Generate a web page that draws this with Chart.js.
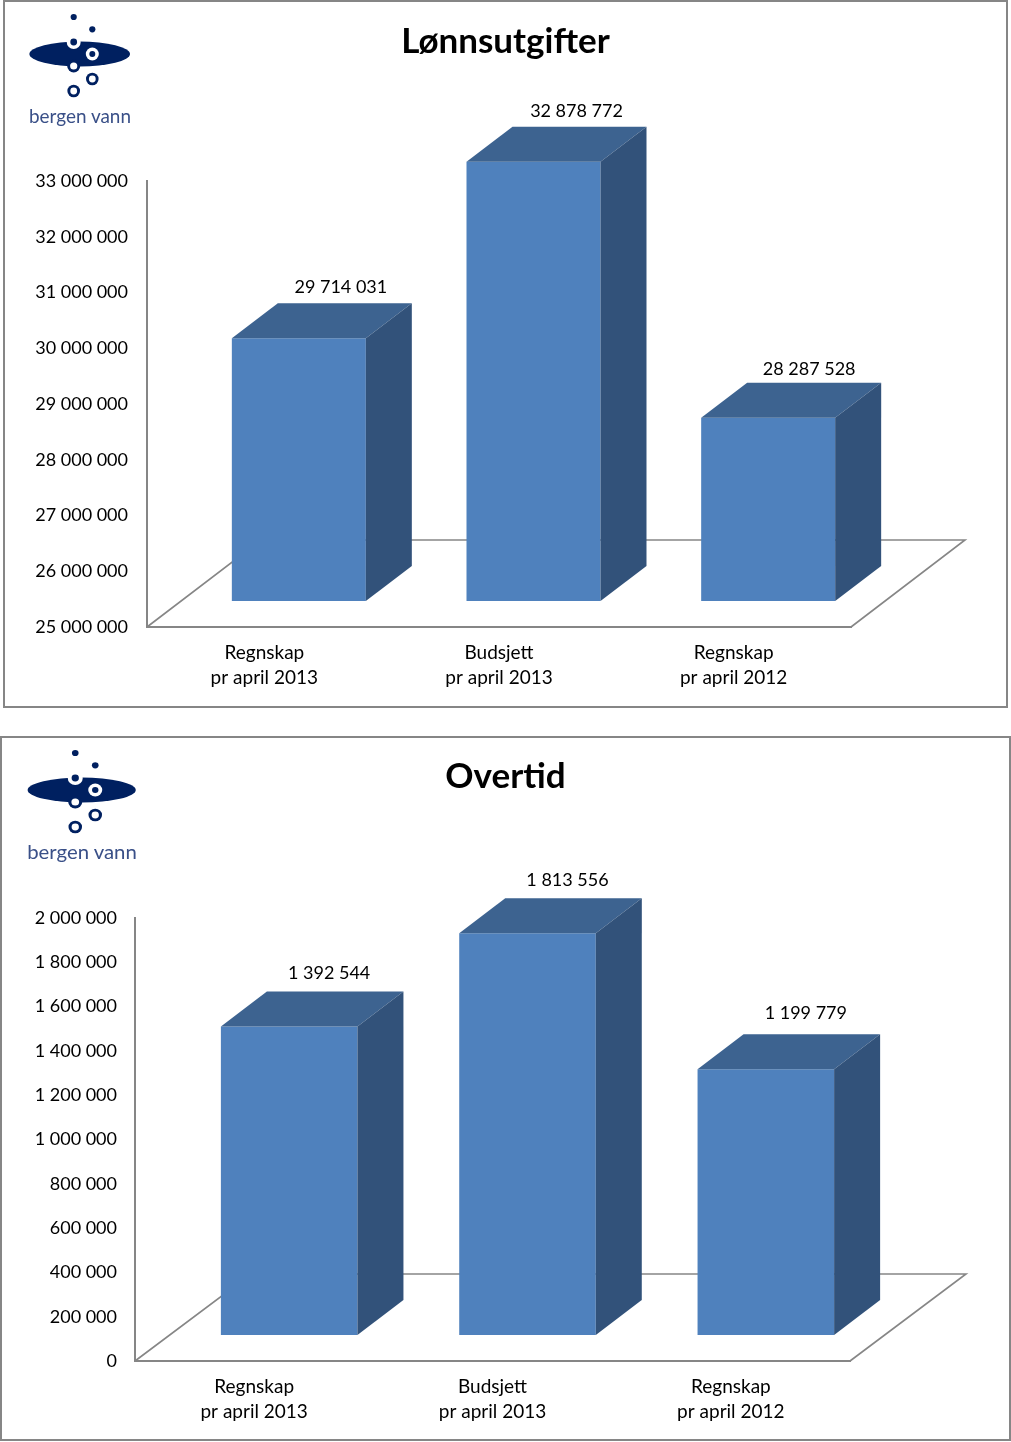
<!DOCTYPE html>
<html><head><meta charset="utf-8">
<script src="https://cdn.jsdelivr.net/npm/chart.js@4"></script>
<style>
html,body{margin:0;padding:0;background:#fff;width:1011px;height:1442px;overflow:hidden}
canvas,svg.logo,.frame{position:absolute}
.frame{border:2px solid #868686;box-sizing:border-box}
svg.logo{left:0;top:0;width:1011px;height:1442px;pointer-events:none}
</style></head><body>
<div class="frame" style="left:3px;top:0;width:1005px;height:708px"></div>
<div class="frame" style="left:0;top:736px;width:1011px;height:705px"></div>
<canvas id="c1" width="1011" height="705" style="left:0;top:2px"></canvas>
<canvas id="c2" width="1011" height="703" style="left:0;top:737px"></canvas>
<svg class="logo" viewBox="0 0 1011 1442">
<defs><g id="mark">
<circle cx="73.7" cy="17" r="3.1" fill="#002060"/><circle cx="92.3" cy="29.3" r="3.1" fill="#002060"/>
<ellipse cx="79.7" cy="54" rx="50.3" ry="12.5" fill="#002060"/>
<circle cx="73.7" cy="42" r="7" fill="#fff"/><circle cx="73.7" cy="42" r="3.4" fill="#002060"/>
<circle cx="92.3" cy="54" r="6.5" fill="#fff"/><circle cx="92.3" cy="54" r="3" fill="#002060"/>
<circle cx="73.7" cy="66" r="6.5" fill="#002060"/><circle cx="73.7" cy="66" r="3.6" fill="#fff"/>
<circle cx="92.3" cy="79" r="6.3" fill="#002060"/><circle cx="92.3" cy="79" r="3.4" fill="#fff"/>
<circle cx="73.7" cy="91" r="6.3" fill="#002060"/><circle cx="73.7" cy="91" r="3.4" fill="#fff"/>
<text x="29" y="123" font-family="Lato" font-size="20" fill="#3a5088" textLength="102" lengthAdjust="spacingAndGlyphs">bergen vann</text>
</g></defs>
<use href="#mark"/>
<use href="#mark" transform="translate(81.7,790) scale(1.075,1) translate(-79.7,-54)"/>
</svg>
<script>
const categories = [["Regnskap","pr april 2013"],["Budsjett","pr april 2013"],["Regnskap","pr april 2012"]];
const lonnValues = [29714031, 32878772, 28287528];
const overtidValues = [1392544, 1813556, 1199779];
const lonnTicks = {min:25000000,max:33000000,step:1000000};
const overtidTicks = {min:0,max:2000000,step:200000};
const fmt = v => String(Math.round(v)).replace(/\B(?=(\d{3})+$)/g,' ');
const FONT = 'Lato';

const bar3d = {
  id:'bar3d',
  beforeDatasetsDraw(chart,_,o){
    const {ctx,chartArea:a}=chart;
    ctx.save();
    ctx.strokeStyle='#868686';ctx.lineWidth=1.6;
    ctx.beginPath();
    ctx.moveTo(a.left,a.bottom);ctx.lineTo(a.left+o.floorDx,a.bottom-o.floorDy);
    ctx.lineTo(a.right+o.floorDx,a.bottom-o.floorDy);ctx.lineTo(a.right,a.bottom);
    ctx.stroke();ctx.restore();
    ctx.save();ctx.translate(o.dx,-o.dy);
  },
  afterDatasetsDraw(chart,_,o){
    const {ctx}=chart;
    const meta=chart.getDatasetMeta(0);
    meta.data.forEach(b=>{
      const l=b.x-b.width/2,r=b.x+b.width/2,t=b.y,base=b.base;
      ctx.fillStyle='#3d6390';
      ctx.beginPath();ctx.moveTo(l,t);ctx.lineTo(l+o.depthX,t-o.depthY);ctx.lineTo(r+o.depthX,t-o.depthY);ctx.lineTo(r,t);ctx.closePath();ctx.fill();
      ctx.fillStyle='#32527a';
      ctx.beginPath();ctx.moveTo(r,t);ctx.lineTo(r+o.depthX,t-o.depthY);ctx.lineTo(r+o.depthX,base-o.depthY);ctx.lineTo(r,base);ctx.closePath();ctx.fill();
    });
    ctx.restore();
    ctx.save();
    ctx.fillStyle='#000';ctx.font='18px '+FONT;ctx.textAlign='center';ctx.textBaseline='middle';
    meta.data.forEach((b,i)=>{
      ctx.fillText(fmt(chart.data.datasets[0].data[i]),b.x+o.dx+o.labelDx[i],b.y-o.dy-o.labelDy[i]);
    });
    ctx.restore();
  }
};

function make(id,title,values,range,opts){
  return new Chart(document.getElementById(id),{
    type:'bar',
    plugins:[bar3d],
    data:{labels:categories,datasets:[{data:values,base:range.min,backgroundColor:'#4f81bd',borderWidth:0,barPercentage:1,categoryPercentage:opts.cat,clip:false}]},
    options:{
      responsive:false,animation:false,
      plugins:{
        legend:{display:false},tooltip:{enabled:false},
        title:{display:true,text:title,color:'#000',font:{family:FONT,size:35,weight:'bold',lineHeight:1.2},padding:{top:opts.titleTop,bottom:opts.titleBottom}},
        bar3d:opts.geo
      },
      scales:{
        x:{grid:{display:false,drawTicks:false},border:{display:true,color:'#868686',width:2},
           ticks:{color:'#000',font:{family:FONT,size:19,lineHeight:1.32},padding:opts.xPad,maxRotation:0,autoSkip:false},
           afterFit(s){s.height=opts.xHeight}},
        y:{min:range.min,max:range.max,grid:{display:false,drawTicks:false},border:{display:true,color:'#868686',width:2},
           ticks:{stepSize:range.step,color:'#000',font:{family:FONT,size:18},padding:opts.yPad,callback:v=>fmt(v)},
           afterFit(s){s.width=opts.yWidth}},
        gutter:{position:'right',grid:{display:false},border:{display:false},ticks:{display:false},
           afterFit(s){s.width=opts.gutter}}
      }
    }
  });
}

make('c1','Lønnsutgifter',lonnValues,lonnTicks,{
  cat:0.571,gutter:160,titleTop:19,titleBottom:118,xPad:13,xHeight:80,yPad:19,yWidth:147,
  geo:{dx:34.5,dy:26,depthX:46,depthY:35,floorDx:114,floorDy:87,labelDx:[42,43,41],labelDy:[51,51,49]}
});
make('c2','Overtid',overtidValues,overtidTicks,{
  cat:0.573,gutter:161,titleTop:19,titleBottom:120,xPad:13,xHeight:79,yPad:18,yWidth:135,
  geo:{dx:35,dy:26,depthX:46,depthY:35,floorDx:116,floorDy:87,labelDx:[40,40,40],labelDy:[53,53,56]}
});
</script>
</body></html>
